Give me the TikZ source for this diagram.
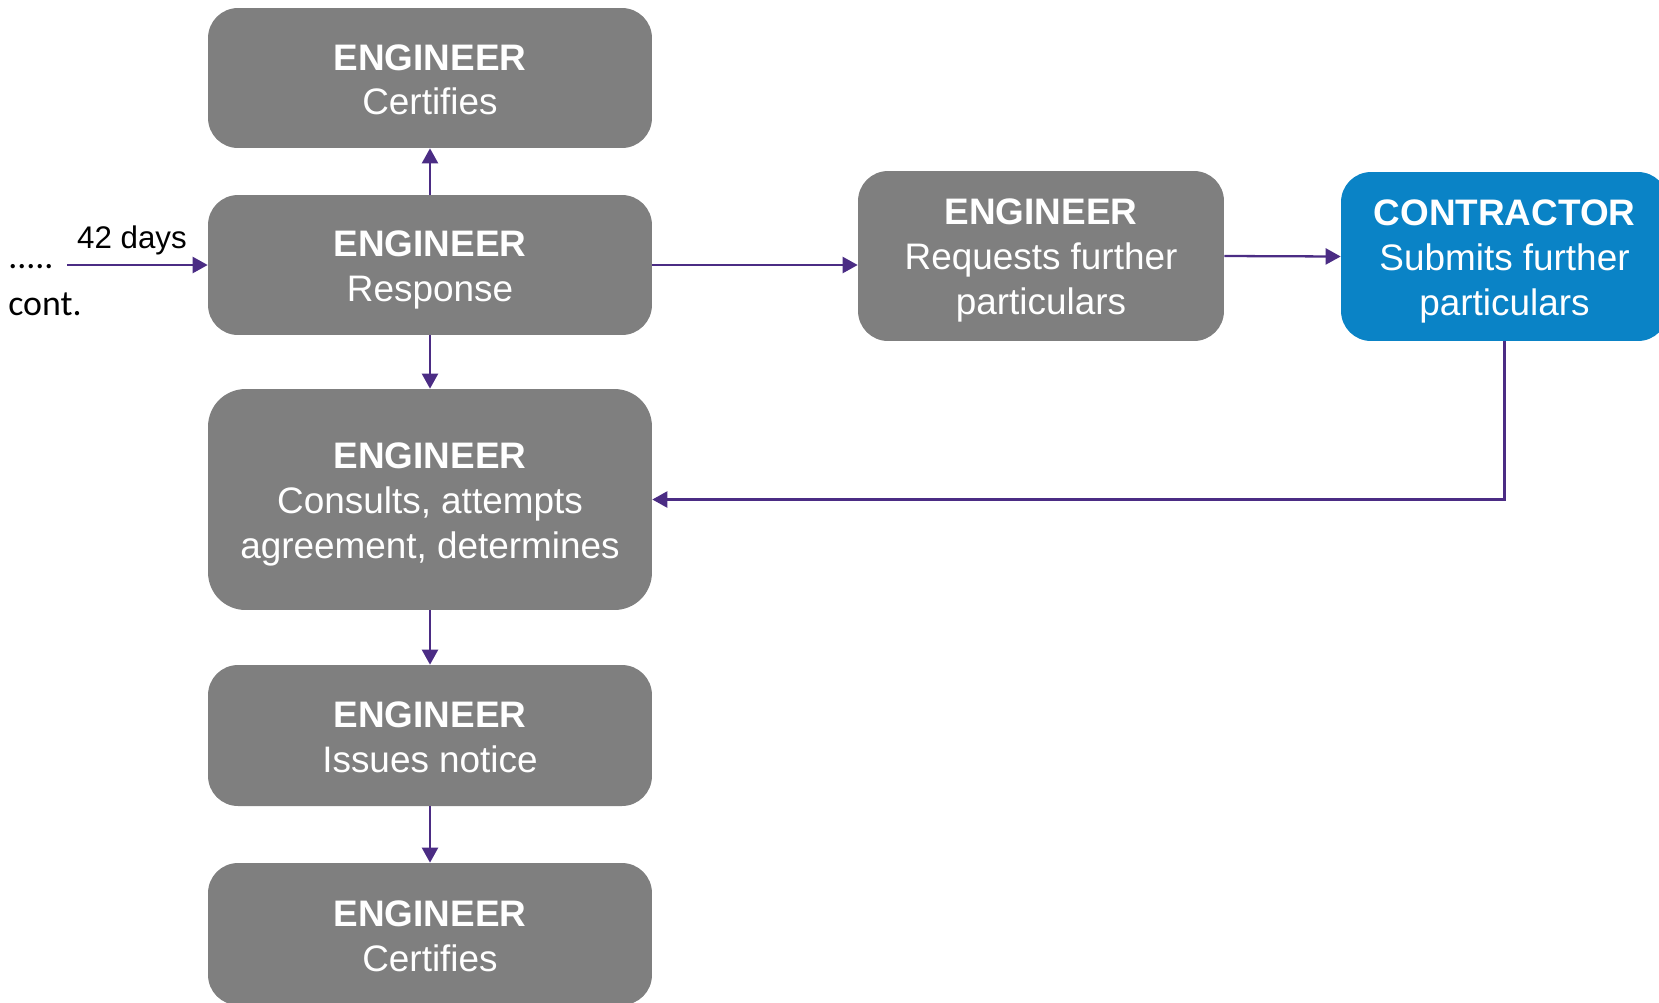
\documentclass[tikz,border=0pt]{standalone}
\usepackage{fontspec}
\setmainfont{Liberation Sans}
\newfontfamily\calfont{Carlito}
\usetikzlibrary{positioning,arrows.meta}
\definecolor{boxgray}{HTML}{7F7F7F}
\definecolor{ctrblue}{HTML}{0A83C6}
\definecolor{flowpurple}{HTML}{4B2C84}
\newcommand{\bs}{\rule[-3.5pt]{0pt}{23.5pt}}

\begin{document}
\begin{tikzpicture}[x=0.02cm,y=-0.02cm,
  stepbox/.style={rectangle,rounded corners=0.6cm,fill=boxgray,text=white,align=center,
    inner sep=0pt,minimum width=8.88cm,font=\fontsize{21}{25.6}\selectfont},
  flow/.style={draw=flowpurple,line width=1.3pt,-{Triangle[length=0.3cm,width=0.32cm]}}]
\useasboundingbox (0,0) rectangle (1659,1002);
\clip (0,0) rectangle (1659,1002);
% engineer column
\node[stepbox,minimum height=2.8cm] (cert1) at (430,78) {\bs\textbf{ENGINEER}\\Certifies\bs};
\node[stepbox,minimum height=2.8cm] (resp) at (430,265) {\bs\textbf{ENGINEER}\\Response\bs};
\node[stepbox,minimum height=4.42cm,rounded corners=0.75cm] (consult) at (430,499.5) {\bs\textbf{ENGINEER}\\Consults, attempts\\agreement, determines\bs};
\node[stepbox,minimum height=2.82cm] (notice) at (430,735.5) {\bs\textbf{ENGINEER}\\Issues notice\bs};
\node[stepbox,minimum height=2.84cm] (cert2) at (430,934) {\bs\textbf{ENGINEER}\\Certifies\bs};
% further particulars
\node[stepbox,minimum width=7.32cm,minimum height=3.4cm] (req) at (1041,256) {\bs\textbf{ENGINEER}\\Requests further\\particulars\bs};
\node[stepbox,fill=ctrblue,minimum width=6.54cm,minimum height=3.38cm] (contr) at (1504.5,256.5) {\bs\textbf{CONTRACTOR}\\Submits further\\particulars\bs};
% incoming
\node[anchor=base west,font=\calfont\fontsize{20.4}{24}\selectfont,inner sep=0pt] (dots) at (8,268) {.....};
\node[anchor=base west,font=\calfont\fontsize{20.4}{24}\selectfont,inner sep=0pt] (cont) at (8,315) {cont.};
\node[font=\fontsize{17.8}{21}\selectfont,inner sep=0pt] (days) at (132,240) {42 days};
\coordinate (cin) at (67,265);

\draw[flow] (cin) -- (resp.west);
\draw[flow] (resp.north) -- (cert1.south);
\draw[flow] (resp.east) -- (resp.east -| req.west);
\draw[flow] (req.east) -- (contr.west);
\draw[flow] (contr.south) |- (consult.east);
\draw[flow] (resp.south) -- (consult.north);
\draw[flow] (consult.south) -- (notice.north);
\draw[flow] (notice.south) -- (cert2.north);
\end{tikzpicture}
\end{document}
